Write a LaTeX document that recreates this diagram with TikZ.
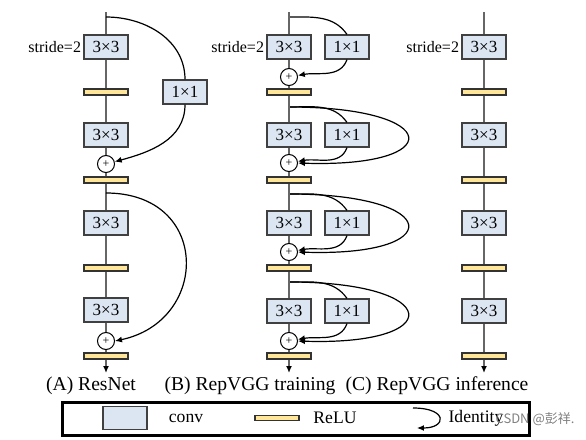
\documentclass[tikz,border=0pt]{standalone}
\usepackage{fontspec}
\setmainfont{Liberation Serif}
\newfontfamily\cjkfont{Noto Sans CJK SC}
\usetikzlibrary{arrows.meta}

\definecolor{convblue}{HTML}{DCE6F2}
\definecolor{relugold}{HTML}{FFE699}
\definecolor{trunkgray}{HTML}{666666}

\begin{document}
\begin{tikzpicture}[x=0.5pt,y=-0.5pt,>={Latex[length=3.5pt,width=3pt]}]
  \tikzstyle{conv}=[draw=black!75,fill=convblue,line width=.6pt,minimum width=22pt,minimum height=12pt,inner sep=0pt,font=\fontsize{8.5}{9}\selectfont]
  \tikzstyle{relu}=[draw=black!80,fill=relugold,line width=.6pt,minimum width=22pt,minimum height=3pt,inner sep=0pt]
  \tikzstyle{plus}=[draw,circle,fill=white,minimum size=8.5pt,inner sep=0pt,line width=.5pt,font=\fontsize{6}{6}\selectfont]
  \tikzstyle{trunk}=[draw=trunkgray,line width=.7pt]
  \tikzstyle{outlet}=[draw=trunkgray,line width=.7pt,-{Latex[length=3.5pt,width=3pt,color=black]}]
  \tikzstyle{skip}=[draw=black,line width=.6pt]
  \tikzstyle{stride}=[left,inner sep=1pt,font=\fontsize{8}{9}\selectfont]
  \tikzstyle{title}=[font=\fontsize{9.8}{11}\selectfont]
  \tikzstyle{leg}=[font=\fontsize{8.8}{10}\selectfont]
  \useasboundingbox (0,0) rectangle (586,440);

  % (A) ResNet
  \coordinate (ta) at (106,12);
  \coordinate (ea) at (106,373);
  \foreach \n / \y / \r in {1/47/92,2/135/180,3/223/268,4/310/356} {
    \node[conv] (a\n) at (106,\y) {3×3};
    \node[relu] (ra\n) at (106,\r) {};
  }
  \node[plus] (pa1) at (106,164) {+};
  \node[plus] (pa2) at (106,341) {+};
  \node[conv] (sa) at (185,92) {1×1};
  \node[stride] (sta) at (a1.west) {stride=2};
  \draw[trunk] (ta) -- (a1) -- (ra1) -- (a2) -- (pa1) -- (ra2) -- (a3) -- (ra3) -- (a4) -- (pa2) -- (ra4);
  \draw[outlet] (ra4) -- (ea);
  \coordinate (ka1) at (106,17);
  \coordinate (ka2) at (106,193);
  \draw[skip] (ka1) to[out=0,in=90] (sa.north);
  \draw[skip,->] (sa.south) to[out=-90,in=15] (pa1);
  \draw[skip,->] (ka2) .. controls +(105,0) and +(95,-20) .. (pa2.east);

  % (B) RepVGG training
  \coordinate (tb) at (289,12);
  \coordinate (eb) at (289,373);
  \foreach \n / \y / \p / \r / \k in {1/47/77/92/17,2/135/163/180/107,3/223/252/268/194,4/311/341/356/282} {
    \node[conv] (b\n) at (289,\y) {3×3};
    \node[conv] (sb\n) at (347,\y) {1×1};
    \node[plus] (pb\n) at (289,\p) {+};
    \node[relu] (rb\n) at (289,\r) {};
    \coordinate (kb\n) at (289,\k);
    \draw[skip] (kb\n) to[out=0,in=125] (sb\n.north);
    \draw[skip,->] (sb\n.south) to[out=-110,in=10] (pb\n);
  }
  \foreach \n in {2,3,4}
    \draw[skip,->] (kb\n) .. controls +(155,0) and +(150,5) .. (pb\n.east);
  \node[stride] (stb) at (b1.west) {stride=2};
  \draw[trunk] (tb) -- (b1) -- (pb1) -- (rb1) -- (b2) -- (pb2) -- (rb2) -- (b3) -- (pb3) -- (rb3) -- (b4) -- (pb4) -- (rb4);
  \draw[outlet] (rb4) -- (eb);

  % (C) RepVGG inference
  \coordinate (tc) at (484,12);
  \coordinate (ec) at (484,373);
  \foreach \n / \y / \r in {1/47/92,2/135/180,3/223/268,4/311/356} {
    \node[conv] (c\n) at (484,\y) {3×3};
    \node[relu] (rc\n) at (484,\r) {};
  }
  \node[stride] (stc) at (c1.west) {stride=2};
  \draw[trunk] (tc) -- (c1) -- (rc1) -- (c2) -- (rc2) -- (c3) -- (rc3) -- (c4) -- (rc4);
  \draw[outlet] (rc4) -- (ec);

  % titles
  \node[title] (tla) at (91,386) {(A) ResNet};
  \node[title] (tlb) at (250,386) {(B) RepVGG training};
  \node[title] (tlc) at (437,386) {(C) RepVGG inference};

  % legend
  \draw[line width=1.5pt] (63,402) rectangle (530,435);
  \node[conv,minimum height=11.5pt] (lconv) at (125,418) {};
  \node[leg] (lconvt) at (186,418) {conv};
  \node[relu,minimum height=2.5pt] (lrelu) at (277,418) {};
  \node[leg] (lrelut) at (335,418) {ReLU};
  \coordinate (lid1) at (413,408);
  \coordinate (lid2) at (417,428);
  \draw[skip,->] (lid1) .. controls +(35,0) and +(30,0) .. (lid2);
  \node[leg] (lidt) at (476,418) {Identity};
  \node[font=\cjkfont\fontsize{6.5}{7}\selectfont,text=gray] (wm) at (535,419) {CSDN @彭祥.};
\end{tikzpicture}
\end{document}
